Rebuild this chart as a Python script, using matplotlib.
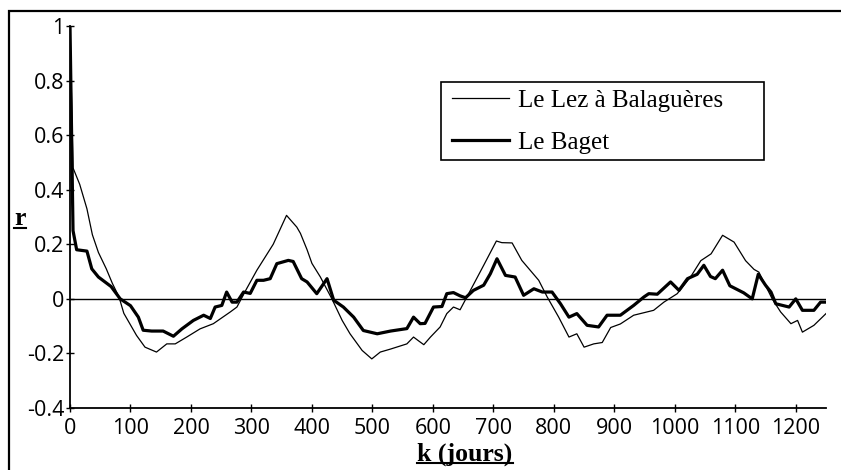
import matplotlib
matplotlib.use("Agg")
import matplotlib.pyplot as plt
from matplotlib.lines import Line2D
from matplotlib.patches import Rectangle

# autocorrélation r(k) des débits journaliers
k_lez = [0, 5, 16, 28, 37, 47, 60, 70, 81, 89, 110, 124, 143, 160, 174, 193, 215,
         237, 265, 276, 292, 309, 336, 358, 375, 381, 392, 400, 414, 433, 450, 463,
         483, 499, 513, 530, 557, 568, 577, 585, 596, 612, 623, 634, 645, 662, 684,
         705, 714, 731, 747, 775, 789, 808, 825, 838, 850, 866, 880, 894, 910, 932,
         965, 982, 1004, 1026, 1043, 1060, 1079, 1098, 1117, 1131, 1139, 1161, 1175,
         1192, 1203, 1211, 1230, 1250]
r_lez = [1.0, 0.48, 0.42, 0.33, 0.235, 0.17, 0.11, 0.057, 0.007, -0.053, -0.134,
         -0.177, -0.195, -0.165, -0.165, -0.14, -0.11, -0.091, -0.048, -0.03, 0.037,
         0.105, 0.2, 0.306, 0.263, 0.24, 0.18, 0.13, 0.08, 0.0, -0.079, -0.128,
         -0.189, -0.22, -0.195, -0.184, -0.165, -0.14, -0.155, -0.168, -0.14, -0.103,
         -0.054, -0.03, -0.04, 0.031, 0.123, 0.212, 0.206, 0.205, 0.141, 0.068, 0.007,
         -0.067, -0.14, -0.128, -0.177, -0.165, -0.16, -0.105, -0.092, -0.06, -0.042,
         -0.012, 0.019, 0.08, 0.14, 0.165, 0.233, 0.208, 0.14, 0.108, 0.098, 0.0,
         -0.048, -0.091, -0.079, -0.122, -0.097, -0.054]

k_baget = [0, 5, 11, 28, 36, 47, 68, 83, 100, 113, 121, 135, 154, 171, 185, 204, 221,
           232, 240, 251, 259, 268, 276, 287, 298, 309, 320, 331, 342, 361, 369, 383,
           392, 408, 425, 436, 452, 469, 485, 508, 530, 557, 568, 579, 587, 601, 615,
           623, 634, 645, 654, 667, 684, 695, 706, 720, 736, 750, 767, 781, 797, 811,
           825, 838, 855, 874, 888, 910, 932, 949, 957, 971, 993, 1007, 1021, 1037,
           1048, 1059, 1067, 1079, 1091, 1114, 1128, 1138, 1150, 1159, 1167, 1189,
           1200, 1211, 1230, 1241, 1250]
r_baget = [1.0, 0.25, 0.18, 0.175, 0.11, 0.08, 0.045, 0.0, -0.025, -0.067, -0.115,
           -0.118, -0.118, -0.137, -0.11, -0.079, -0.06, -0.072, -0.03, -0.024, 0.025,
           -0.012, -0.012, 0.025, 0.02, 0.068, 0.068, 0.074, 0.129, 0.141, 0.137,
           0.074, 0.062, 0.019, 0.074, -0.005, -0.03, -0.067, -0.116, -0.128, -0.118,
           -0.109, -0.067, -0.091, -0.09, -0.03, -0.028, 0.019, 0.023, 0.011, 0.004,
           0.031, 0.05, 0.092, 0.147, 0.086, 0.08, 0.013, 0.037, 0.025, 0.025, -0.018,
           -0.067, -0.054, -0.097, -0.103, -0.06, -0.06, -0.024, 0.007, 0.019, 0.017,
           0.062, 0.031, 0.074, 0.09, 0.123, 0.082, 0.074, 0.105, 0.048, 0.022, 0.0,
           0.09, 0.05, 0.025, -0.018, -0.03, 0.0, -0.042, -0.042, -0.012, -0.012]

noms = ["Le Lez à Balaguères", "Le Baget"]
x_ticks = list(range(0, 1201, 100))
y_ticks = [-0.4, -0.2, 0, 0.2, 0.4, 0.6, 0.8, 1]
y_labels = ["-0.4", "-0.2", "0", "0.2", "0.4", "0.6", "0.8", "1"]

SERIF = "Liberation Serif"
SANS = "Open Sans"
W, H = 841, 470

fig = plt.figure(figsize=(W / 100, H / 100), dpi=100)
ax = fig.add_axes([70 / W, 1 - 408 / H, 756 / W, 382 / H])

ax.plot(k_lez, r_lez, color="black", linewidth=0.9, label=noms[0])
ax.plot(k_baget, r_baget, color="black", linewidth=2.3, label=noms[1])
ax.axhline(0, color="black", linewidth=1.0)

ax.set_xlim(0, 1250)
ax.set_ylim(-0.4, 1.0)
ax.spines["top"].set_visible(False)
ax.spines["right"].set_visible(False)
ax.spines["left"].set_linewidth(1.3)
ax.spines["bottom"].set_linewidth(1.3)

ax.set_xticks(x_ticks)
ax.set_xticklabels([str(v) for v in x_ticks], fontfamily=SANS, fontsize=15.5)
ax.set_yticks(y_ticks)
ax.set_yticklabels(y_labels, fontfamily=SANS, fontsize=15.5)
ax.tick_params(axis="both", direction="inout", length=6, width=1.0, pad=1)
ax.tick_params(axis="x", pad=4)

# légende sans cadre, le cadre est tracé à part (plus large à droite)
leg = ax.legend(loc="upper left", bbox_to_anchor=(452 / W, 1 - 89 / H),
                bbox_transform=fig.transFigure, frameon=False,
                prop={"family": SERIF, "size": 18}, handlelength=2.3,
                handletextpad=0.35, borderpad=0.0, labelspacing=0.8,
                borderaxespad=0)
fig.add_artist(Rectangle((441 / W, 1 - 160 / H), 323 / W, 78 / H,
                         transform=fig.transFigure, fill=False,
                         edgecolor="black", linewidth=1.2))

# titres des axes, en gras et soulignés
tx = fig.text(465 / W, 1 - 454 / H, "k (jours)", ha="center", va="center",
              fontfamily=SERIF, fontsize=18.5, fontweight="bold")
ty = fig.text(20 / W, 1 - 219 / H, "r", ha="center", va="center",
              fontfamily=SERIF, fontsize=18.5, fontweight="bold")

fig.canvas.draw()
r = fig.canvas.get_renderer()
for t in (tx, ty):
    bb = t.get_window_extent(r).transformed(fig.transFigure.inverted())
    yl = bb.y0 + 0.006
    fig.add_artist(Line2D([bb.x0, bb.x1], [yl, yl], transform=fig.transFigure,
                          color="black", linewidth=1.5))

# cadre autour de la figure
fig.add_artist(Rectangle((9 / W, -0.05), 1.2, 1 - 11 / H + 0.05,
                         transform=fig.transFigure, fill=False,
                         edgecolor="black", linewidth=1.6))

fig.savefig("out.png", dpi=100)
